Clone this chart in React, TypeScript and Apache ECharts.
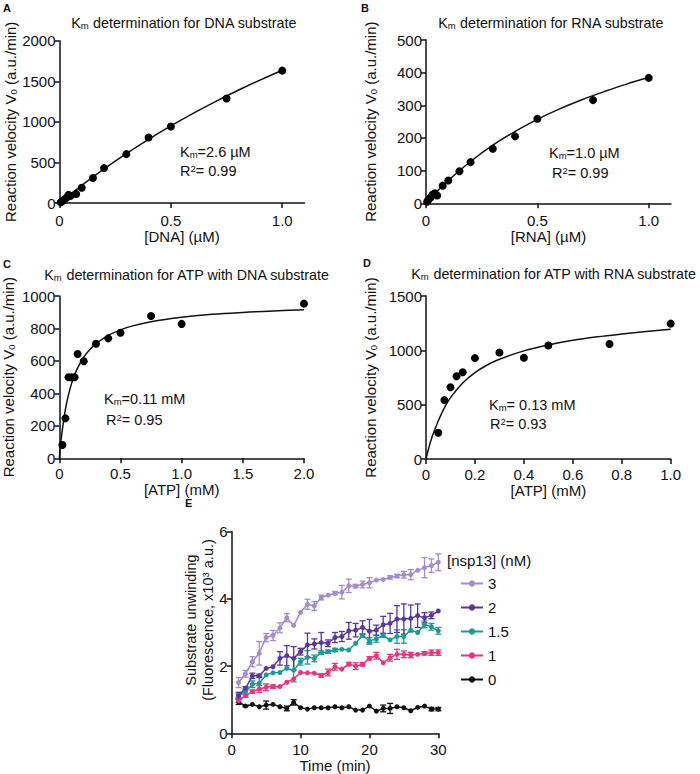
import React, { useEffect, useRef } from 'react';
import * as echarts from 'echarts';

const FONT = '"Liberation Sans", Arial, Helvetica, sans-serif';

// Panel A: DNA substrate
const dnaX = [0.005, 0.01, 0.02, 0.03, 0.04, 0.05, 0.075, 0.1, 0.15, 0.2, 0.3, 0.4, 0.5, 0.75, 1.0];
const dnaV = [8, 18, 40, 62, 100, 88, 112, 188, 307, 430, 602, 807, 943, 1287, 1631];
const dnaFitX = [0, 0.1, 0.2, 0.3, 0.4, 0.5, 0.6, 0.7, 0.8, 0.9, 1.0];
const dnaFitV = [0, 218, 421, 609, 785, 950, 1104, 1249, 1386, 1514, 1636];

// Panel B: RNA substrate
const rnaX = [0.005, 0.01, 0.02, 0.03, 0.04, 0.05, 0.075, 0.1, 0.15, 0.2, 0.3, 0.4, 0.5, 0.75, 1.0];
const rnaV = [5, 10, 18, 27, 31, 24, 54, 70, 98, 126, 167, 205, 259, 316, 384];
const rnaFitX = [0, 0.05, 0.1, 0.2, 0.3, 0.4, 0.5, 0.6, 0.7, 0.8, 0.9, 1.0];
const rnaFitV = [0, 37, 70, 128, 178, 220, 257, 289, 317, 342, 365, 385];

// Panel C: ATP with DNA substrate
const atpDnaX = [0.025, 0.05, 0.075, 0.1, 0.125, 0.15, 0.2, 0.3, 0.4, 0.5, 0.75, 1.0, 2.0];
const atpDnaV = [82, 246, 499, 499, 499, 643, 598, 706, 739, 774, 877, 828, 953];
const atpDnaFitX = [0, 0.01, 0.02, 0.04, 0.06, 0.08, 0.1, 0.125, 0.15, 0.2, 0.25, 0.3, 0.4, 0.5, 0.6, 0.75, 1.0, 1.25, 1.5, 1.75, 2.0];
const atpDnaFitV = [0, 80, 148, 257, 341, 406, 460, 513, 557, 623, 670, 706, 757, 791, 816, 842, 869, 887, 899, 908, 915];

// Panel D: ATP with RNA substrate
const atpRnaX = [0.05, 0.075, 0.1, 0.125, 0.15, 0.2, 0.3, 0.4, 0.5, 0.75, 1.0];
const atpRnaV = [242, 542, 661, 762, 799, 928, 980, 931, 1044, 1059, 1246];
const atpRnaFitX = [0, 0.01, 0.025, 0.05, 0.075, 0.1, 0.15, 0.2, 0.25, 0.3, 0.4, 0.5, 0.6, 0.7, 0.8, 0.9, 1.0];
const atpRnaFitV = [0, 90, 205, 350, 470, 565, 700, 795, 865, 918, 995, 1050, 1092, 1124, 1150, 1173, 1194];

// Panel E: unwinding time course
const times = [1, 2, 3, 4, 5, 6, 7, 8, 9, 10, 11, 12, 13, 14, 15, 16, 17, 18, 19, 20, 21, 22, 23, 24, 25, 26, 27, 28, 29, 30];
const nsp3 = [1.51, 1.77, 2.13, 2.38, 2.85, 2.91, 3.14, 3.44, 3.21, 3.6, 3.84, 3.79, 4.04, 4.11, 4.17, 4.2, 4.39, 4.38, 4.43, 4.48, 4.56, 4.58, 4.64, 4.68, 4.72, 4.72, 4.85, 4.93, 4.99, 5.09];
const nsp3Err = [0.15, 0.1, 0.15, 0.35, 0.12, 0.15, 0.15, 0.12, 0, 0, 0.15, 0.13, 0.07, 0, 0.05, 0.2, 0.2, 0.05, 0.1, 0.15, 0, 0, 0.05, 0.05, 0.1, 0.15, 0, 0.3, 0.2, 0.25];
const nsp2 = [1.12, 1.34, 1.71, 1.71, 1.93, 1.98, 2.23, 2.31, 2.23, 2.43, 2.63, 2.66, 2.7, 2.68, 2.85, 2.88, 3.05, 3.07, 3.15, 3.04, 3.07, 3.23, 3.27, 3.4, 3.4, 3.42, 3.5, 3.44, 3.51, 3.64];
const nsp2Err = [0.1, 0.05, 0.08, 0.05, 0, 0, 0.2, 0.3, 0.35, 0.1, 0.35, 0.15, 0.3, 0.1, 0.15, 0.15, 0.25, 0.2, 0.2, 0.35, 0.15, 0.25, 0.3, 0.4, 0.45, 0.4, 0.35, 0.15, 0.1, 0];
const nsp15 = [1.12, 1.24, 1.46, 1.49, 1.74, 1.8, 1.81, 1.93, 1.88, 2.13, 2.26, 2.23, 2.4, 2.43, 2.48, 2.5, 2.48, 2.68, 2.91, 2.75, 2.81, 2.91, 2.78, 2.88, 2.88, 3.07, 3.0, 3.24, 3.17, 3.05];
const nsp15Err = [0.05, 0.1, 0.1, 0.2, 0, 0, 0, 0, 0.35, 0.1, 0.2, 0.1, 0.05, 0.05, 0.05, 0, 0, 0, 0.05, 0.1, 0.1, 0.05, 0, 0.2, 0.2, 0, 0, 0.1, 0.1, 0.1];
const nsp1 = [0.97, 1.12, 1.24, 1.32, 1.37, 1.39, 1.39, 1.52, 1.62, 1.81, 1.8, 1.79, 1.72, 1.81, 1.98, 1.91, 2.06, 2.0, 2.05, 2.23, 2.31, 2.1, 2.25, 2.35, 2.35, 2.33, 2.35, 2.38, 2.4, 2.4];
const nsp1Err = [0.05, 0.05, 0.05, 0.1, 0.1, 0.05, 0, 0, 0, 0, 0, 0, 0.05, 0.1, 0.1, 0, 0.05, 0.1, 0.05, 0.05, 0.1, 0, 0.1, 0.15, 0.1, 0.08, 0, 0.05, 0.08, 0.08];
const nsp0 = [0.94, 0.81, 0.86, 0.79, 0.84, 0.86, 0.79, 0.74, 0.92, 0.76, 0.72, 0.76, 0.76, 0.76, 0.79, 0.76, 0.79, 0.69, 0.69, 0.81, 0.66, 0.74, 0.74, 0.79, 0.76, 0.67, 0.77, 0.81, 0.72, 0.72];
const nsp0Err = [0.08, 0.02, 0, 0, 0.12, 0, 0, 0.07, 0.08, 0, 0, 0, 0, 0, 0, 0, 0, 0, 0, 0, 0, 0.1, 0.15, 0, 0, 0, 0, 0, 0.05, 0.05];

const legendNames = ['3', '2', '1.5', '1', '0'];
const eColors = ['#a58bd0', '#5a37a0', '#1a9c94', '#e8357f', '#111111'];

const RICH = {
  s: { fontSize: 9.5, fontFamily: FONT, color: '#111', verticalAlign: 'bottom', lineHeight: 10 },
  p: { fontSize: 9.5, fontFamily: FONT, color: '#111', verticalAlign: 'top', lineHeight: 10 },
};

const fmt1 = (v: number) => (Number(v) === 0 ? '0' : Number(v).toFixed(1));

function xAxisCfg(gi: number, max: number, ticks: number[], name: string, fmt: (v: number) => string, margin = 10, gap = 25) {
  return {
    type: 'value', gridIndex: gi, min: 0, max,
    axisLine: { show: true, onZero: false, lineStyle: { color: '#111', width: 1.5 } },
    axisTick: { show: true, length: 5, lineStyle: { color: '#111', width: 1.5 }, customValues: ticks },
    axisLabel: { color: '#111', fontSize: 15, fontFamily: FONT, margin, customValues: ticks, formatter: fmt },
    splitLine: { show: false },
    name, nameLocation: 'middle', nameGap: gap,
    nameTextStyle: { color: '#111', fontSize: 15, fontFamily: FONT },
  };
}

function yAxisCfg(gi: number, max: number, interval: number, name: string, gap: number) {
  return {
    type: 'value', gridIndex: gi, min: 0, max, interval,
    axisLine: { show: true, onZero: false, lineStyle: { color: '#111', width: 1.5 } },
    axisTick: { show: true, length: 5, lineStyle: { color: '#111', width: 1.5 } },
    axisLabel: { color: '#111', fontSize: 15, fontFamily: FONT, margin: 4, formatter: (v: number) => String(v) },
    splitLine: { show: false },
    name, nameLocation: 'middle', nameGap: gap, nameRotate: 90,
    nameTextStyle: { color: '#111', fontSize: 15, fontFamily: FONT, rich: RICH },
  };
}

function scatter(gi: number, xs: number[], ys: number[]) {
  return {
    type: 'scatter', xAxisIndex: gi, yAxisIndex: gi,
    data: xs.map((x, i) => [x, ys[i]]),
    symbolSize: 8, itemStyle: { color: '#000', opacity: 1 }, z: 3,
  };
}

function fit(gi: number, xs: number[], ys: number[]) {
  return {
    type: 'line', xAxisIndex: gi, yAxisIndex: gi,
    data: xs.map((x, i) => [x, ys[i]]),
    smooth: 0.4, showSymbol: false, lineStyle: { color: '#111', width: 1.5 }, z: 2,
  };
}

function eLine(name: string, vals: number[], color: string) {
  return {
    type: 'line', name, xAxisIndex: 4, yAxisIndex: 4,
    data: times.map((t, i) => [t, vals[i]]),
    symbol: 'circle', symbolSize: 5, showSymbol: true,
    lineStyle: { color, width: 1.5 }, itemStyle: { color, opacity: 1 }, z: 3,
  };
}

function eErr(vals: number[], errs: number[], color: string) {
  return {
    type: 'custom', xAxisIndex: 4, yAxisIndex: 4, silent: true, z: 2,
    data: times.map((t, i) => [t, vals[i], errs[i]]),
    renderItem: (params: any, api: any) => {
      const e = api.value(2);
      if (!e) return null;
      const x = api.value(0);
      const y = api.value(1);
      const top = api.coord([x, y + e]);
      const bot = api.coord([x, y - e]);
      const w = 3;
      const st = { stroke: color, lineWidth: 1.3 };
      return {
        type: 'group',
        children: [
          { type: 'line', shape: { x1: top[0], y1: top[1], x2: bot[0], y2: bot[1] }, style: st },
          { type: 'line', shape: { x1: top[0] - w, y1: top[1], x2: top[0] + w, y2: top[1] }, style: st },
          { type: 'line', shape: { x1: bot[0] - w, y1: bot[1], x2: bot[0] + w, y2: bot[1] }, style: st },
        ],
      };
    },
  };
}

function txt(x: number, y: number, text: string, opts: any = {}) {
  return {
    type: 'text', x, y, silent: true,
    style: {
      text, fill: '#111', fontSize: opts.fontSize || 14, fontFamily: FONT,
      fontWeight: opts.fontWeight || 'normal',
      textAlign: opts.align || 'left', textVerticalAlign: 'middle',
      rich: RICH,
    },
    rotation: opts.rotation || 0,
  };
}

export default function App() {
  const ref = useRef<HTMLDivElement>(null);
  useEffect(() => {
    document.body.style.margin = '0';
    if (!ref.current) return;
    const chart = echarts.init(ref.current, null, { renderer: 'svg' });
    const grid = (left: number, top: number, width: number, height: number) => ({
      left, top, width, height, containLabel: false, outerBoundsMode: 'none',
    });
    const option: any = {
      animation: false,
      backgroundColor: '#ffffff',
      grid: [
        grid(59.5, 40.7, 245, 162.3),
        grid(426, 40, 245, 163.3),
        grid(59.3, 296, 244.7, 162.3),
        grid(426, 296, 244.7, 163),
        grid(231.7, 531.7, 206.6, 201.6),
      ],
      xAxis: [
        xAxisCfg(0, 1.1, [0, 0.5, 1.0], '[DNA] (µM)', fmt1),
        xAxisCfg(1, 1.1, [0, 0.5, 1.0], '[RNA] (µM)', fmt1),
        xAxisCfg(2, 2.0, [0, 0.5, 1.0, 1.5, 2.0], '[ATP] (mM)', fmt1, 8, 21),
        xAxisCfg(3, 1.0, [0, 0.2, 0.4, 0.6, 0.8, 1.0], '[ATP] (mM)', fmt1, 8, 21),
        xAxisCfg(4, 30, [0, 10, 20, 30], 'Time (min)', (v: number) => String(v), 9, 24),
      ],
      yAxis: [
        yAxisCfg(0, 2000, 500, 'Reaction velocity V{s|0} (a.u./min)', 41),
        yAxisCfg(1, 500, 100, 'Reaction velocity V{s|0} (a.u./min)', 48),
        yAxisCfg(2, 1000, 200, 'Reaction velocity V{s|0} (a.u./min)', 43),
        yAxisCfg(3, 1500, 500, 'Reaction velocity V{s|0} (a.u./min)', 48),
        { ...yAxisCfg(4, 6, 2, '', 20), name: '' },
      ],
      legend: {
        data: legendNames,
        orient: 'vertical', left: 455, top: 571,
        itemWidth: 22, itemHeight: 8, itemGap: 9,
        textStyle: { color: '#111', fontSize: 15, fontFamily: FONT },
        selectedMode: false,
      },
      series: [
        fit(0, dnaFitX, dnaFitV), scatter(0, dnaX, dnaV),
        fit(1, rnaFitX, rnaFitV), scatter(1, rnaX, rnaV),
        fit(2, atpDnaFitX, atpDnaFitV), scatter(2, atpDnaX, atpDnaV),
        fit(3, atpRnaFitX, atpRnaFitV), scatter(3, atpRnaX, atpRnaV),
        eErr(nsp0, nsp0Err, eColors[4]),
        eErr(nsp1, nsp1Err, eColors[3]),
        eErr(nsp15, nsp15Err, eColors[2]),
        eErr(nsp2, nsp2Err, eColors[1]),
        eErr(nsp3, nsp3Err, eColors[0]),
        eLine('0', nsp0, eColors[4]),
        eLine('1', nsp1, eColors[3]),
        eLine('1.5', nsp15, eColors[2]),
        eLine('2', nsp2, eColors[1]),
        eLine('3', nsp3, eColors[0]),
      ],
      graphic: [
        txt(3, 8, 'A', { fontWeight: 'bold', fontSize: 11 }),
        txt(361, 8, 'B', { fontWeight: 'bold', fontSize: 11 }),
        txt(3, 264, 'C', { fontWeight: 'bold', fontSize: 11 }),
        txt(363, 263, 'D', { fontWeight: 'bold', fontSize: 11 }),
        txt(185, 503, 'E', { fontWeight: 'bold', fontSize: 11 }),
        txt(184, 23, 'K{s|m} determination for DNA substrate', { align: 'center', fontSize: 14.3 }),
        txt(551, 23, 'K{s|m} determination for RNA substrate', { align: 'center', fontSize: 14.3 }),
        txt(187, 275, 'K{s|m} determination for ATP with DNA substrate', { align: 'center', fontSize: 14.3 }),
        txt(554, 274, 'K{s|m} determination for ATP with RNA substrate', { align: 'center', fontSize: 14.3 }),
        txt(180, 152, 'K{s|m}=2.6 µM', { fontSize: 14.5 }),
        txt(180, 171, 'R{p|2}= 0.99', { fontSize: 14.5 }),
        txt(549, 153, 'K{s|m}=1.0 µM', { fontSize: 14.5 }),
        txt(552, 173, 'R{p|2}= 0.99', { fontSize: 14.5 }),
        txt(104, 399, 'K{s|m}=0.11 mM', { fontSize: 14.5 }),
        txt(106, 420, 'R{p|2}= 0.95', { fontSize: 14.5 }),
        txt(489, 405, 'K{s|m}= 0.13 mM', { fontSize: 14.5 }),
        txt(490, 424, 'R{p|2}= 0.93', { fontSize: 14.5 }),
        txt(191, 620, 'Substrate unwinding', { align: 'center', rotation: Math.PI / 2, fontSize: 14.5 }),
        txt(208, 620, '(Fluorescence, x10{p|3} a.u.)', { align: 'center', rotation: Math.PI / 2, fontSize: 14.5 }),
        txt(447, 560, '[nsp13] (nM)', { fontSize: 15 }),
      ],
    };
    chart.setOption(option);
    return () => chart.dispose();
  }, []);
  return <div ref={ref} style={{ width: 700, height: 774 }} />;
}
